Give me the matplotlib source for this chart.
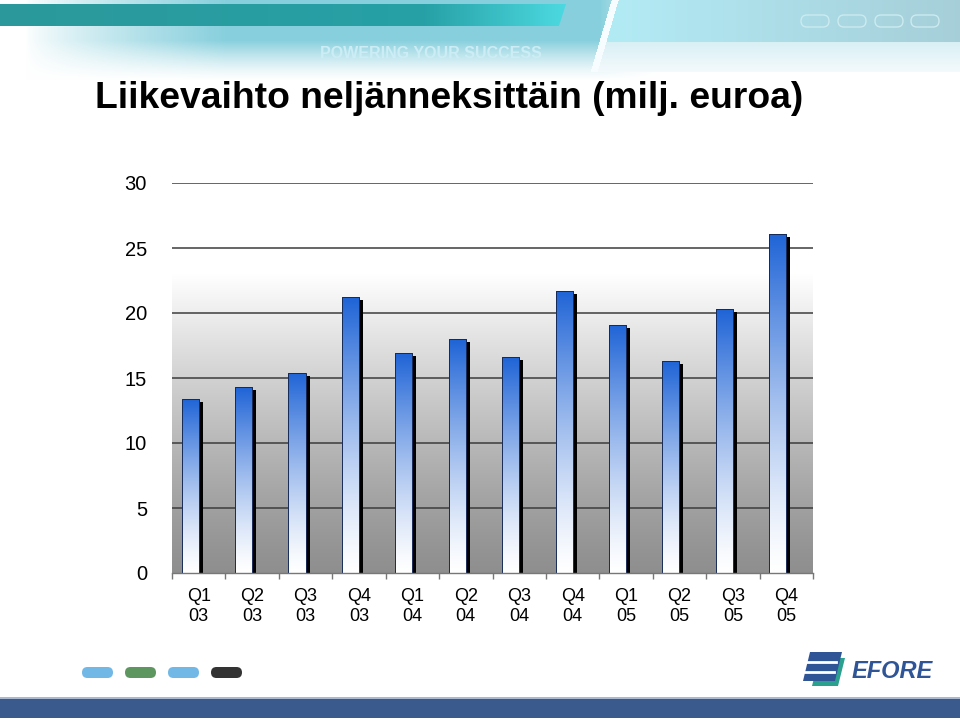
import numpy as np
import matplotlib
matplotlib.use("Agg")
import matplotlib.pyplot as plt
from matplotlib.patches import Rectangle, Polygon, FancyBboxPatch
from matplotlib import patheffects as pe

# ---------------- data ----------------
quarters = ["Q1", "Q2", "Q3", "Q4", "Q1", "Q2", "Q3", "Q4", "Q1", "Q2", "Q3", "Q4"]
years = ["03", "03", "03", "03", "04", "04", "04", "04", "05", "05", "05", "05"]
revenue = [13.4, 14.3, 15.4, 21.2, 16.9, 18.0, 16.6, 21.7, 19.1, 16.3, 20.3, 26.1]
y_ticks = [0, 5, 10, 15, 20, 25, 30]
title = "Liikevaihto neljänneksittäin (milj. euroa)"
slogan = "POWERING YOUR SUCCESS"
brand = "EFORE"

W, H = 960, 720
fig = plt.figure(figsize=(9.6, 7.2), dpi=100)
fig.patch.set_facecolor("white")

# ---------------- slide decorations ----------------
bg = fig.add_axes([0, 0, 1, 1], zorder=0)
bg.axis("off")

hh = 82
yy, xx = np.mgrid[0:hh, 0:W].astype(float)
img = np.ones((hh, W, 3))
ax_ = np.clip((xx - 25) / 200, 0, 1) ** 0.8 * np.clip((660 - xx) / 60, 0, 1)
ay_ = np.where(yy < 40, 1.0, np.clip((80 - yy) / 40, 0, 1) ** 1.3)
a = 0.88 * ax_ * ay_
glow = np.array([0.47, 0.79, 0.85])
img = img * (1 - a[..., None]) + glow * a[..., None]
slant = 618 - (yy / 72.0) * 21
panel = (xx > slant) & (yy < 42)
t = np.clip((xx - 618) / 342, 0, 1)[..., None]
pcol = (1 - t) * np.array([0.70, 0.92, 0.96]) + t * np.array([0.65, 0.81, 0.85])
img[panel] = pcol[panel]
band = (xx > slant) & (yy >= 42) & (yy < 72)
tb = np.clip((yy - 42) / 30, 0, 1)[..., None]
bcol = (1 - tb) * np.array([0.85, 0.94, 0.96]) + tb * np.array([0.96, 0.98, 0.99])
img[band] = bcol[band]
gap = (xx > slant - 7) & (xx <= slant) & (yy < 72)
img[gap] = np.array([0.97, 0.99, 1.0])
bg.imshow(img, extent=[0, W, hh, 0], aspect="auto", zorder=0, interpolation="bilinear")

# teal bar with horizontal gradient
teal = Polygon([(0, 4), (566, 4), (559, 26), (0, 26)], closed=True, facecolor="none",
               edgecolor="none")
bg.add_patch(teal)
tg = np.linspace(0, 1, 256)[None, :, None]
c0 = np.array([0.17, 0.60, 0.61]); c1 = np.array([0.15, 0.63, 0.65]); c2 = np.array([0.30, 0.85, 0.88])
tcol = np.where(tg < 0.75, c0 + (c1 - c0) * (tg / 0.75), c1 + (c2 - c1) * ((tg - 0.75) / 0.25))
im = bg.imshow(tcol, extent=[0, 566, 26, 4], aspect="auto", zorder=1, interpolation="bilinear")
im.set_clip_path(teal)

bg.text(431, 53, slogan, ha="center", va="center", fontsize=11.5, fontweight="bold",
        color=(0.80, 0.93, 0.96), family=["Liberation Sans Narrow", "Liberation Sans"], zorder=2)

for px in [801, 838, 875, 911]:
    bg.add_patch(FancyBboxPatch((px, 15), 28, 12, boxstyle="round,pad=0,rounding_size=6",
                                facecolor="none", edgecolor=(0.80, 0.92, 0.94), lw=1.0, zorder=2))

bg.text(95, 108, title, ha="left", va="baseline", fontsize=26.8, fontweight="bold",
        color="black", family=["Liberation Sans", "DejaVu Sans"], zorder=2)

# bottom pills
for px, col in zip([82, 125, 168, 211], ["#72b8e6", "#5e9660", "#72b8e6", "#333333"]):
    bg.add_patch(FancyBboxPatch((px, 667), 31, 11, boxstyle="round,pad=0,rounding_size=5.5",
                                facecolor=col, edgecolor="none", zorder=2))

# logo
bg.add_patch(Polygon([(819, 658), (845, 658), (838, 686), (812, 686)], closed=True,
                     facecolor="#2aa08e", edgecolor="none", zorder=2))
bg.add_patch(Polygon([(810, 652), (842, 652), (835, 681), (803, 681)], closed=True,
                     facecolor="#2f5597", edgecolor="none", zorder=3))
bg.plot([807, 836], [662, 662], color="white", lw=2.0, zorder=4)
bg.plot([805, 834], [671.5, 671.5], color="white", lw=2.0, zorder=4)
bg.text(852, 678, brand, ha="left", va="baseline", fontsize=17, fontweight="bold",
        fontstyle="italic", color="#2f5597",
        family=["Liberation Sans Narrow", "Liberation Sans"], zorder=3)

bg.add_patch(Rectangle((0, 697), W, 1.5, facecolor="#a9b9d2", edgecolor="none", zorder=2))
bg.add_patch(Rectangle((0, 699), W, 19, facecolor="#3a5a8d", edgecolor="none", zorder=2))

bg.set_xlim(0, W)
bg.set_ylim(H, 0)

# ---------------- chart ----------------
ax = fig.add_axes([172 / W, 1 - 573 / H, 641 / W, 390 / H], zorder=1)
ax.patch.set_alpha(0)
n = len(revenue)
x = np.arange(n)
ax.set_xlim(-0.5, n - 0.5)
ax.set_ylim(0, 30)

# plot-area background gradient
v = np.linspace(0, 30, 400)
g = np.where(v >= 23, 1.0, 0.56 + 0.44 * (v / 23) ** 1.2)
bgarr = np.repeat(g[:, None, None], 3, axis=2)
ax.imshow(bgarr, extent=[-0.5, n - 0.5, 0, 30], origin="lower", aspect="auto",
          zorder=0, interpolation="bilinear")

for yt in y_ticks[1:]:
    ax.axhline(yt, color="#3c3c3c", lw=1.1, zorder=1)

bw = 0.32
bars = ax.bar(x - bw, revenue, width=bw, align="edge", facecolor="white",
              edgecolor="none", zorder=3)
blue = np.array([0.12, 0.39, 0.84])
tt = np.linspace(0, 1, 256)
f = tt ** 1.3
grad = (1 - f)[:, None] * np.array([1.0, 1.0, 1.0]) + f[:, None] * blue
grad = grad[:, None, :]
for b in bars:
    b.set_path_effects([pe.SimplePatchShadow(offset=(2.9, -2.2), shadow_rgbFace="black",
                                             alpha=1.0), pe.Normal()])
    x0, w, h = b.get_x(), b.get_width(), b.get_height()
    gi = ax.imshow(grad, extent=[x0, x0 + w, 0, h], origin="lower", aspect="auto",
                   zorder=3.5, interpolation="bilinear")
    gi.set_clip_path(b)
ax.bar(x - bw, revenue, width=bw, align="edge", facecolor="none",
       edgecolor="#152a55", lw=0.7, zorder=4)
ax.set_xlim(-0.5, n - 0.5)
ax.set_ylim(0, 30)

for s in ["top", "right", "left"]:
    ax.spines[s].set_visible(False)
ax.spines["bottom"].set_color("#777777")
ax.spines["bottom"].set_linewidth(1.0)
ax.spines["bottom"].set_zorder(5)

ax.set_yticks(y_ticks)
ax.set_yticklabels([str(t_) for t_ in y_ticks], fontsize=14.5,
                   family=["Liberation Sans", "DejaVu Sans"])
ax.tick_params(axis="y", length=0, pad=18)

ax.set_xticks(x)
ax.set_xticklabels([f"{q}\n{yr}" for q, yr in zip(quarters, years)], fontsize=13,
                   family=["Liberation Sans", "DejaVu Sans"], linespacing=1.2)
ax.tick_params(axis="x", which="major", length=0, pad=11)
ax.set_xticks(np.arange(-0.5, n, 1.0), minor=True)
ax.tick_params(axis="x", which="minor", length=4, color="#777777", width=1.0, direction="out")

fig.savefig("out.png", dpi=100)
